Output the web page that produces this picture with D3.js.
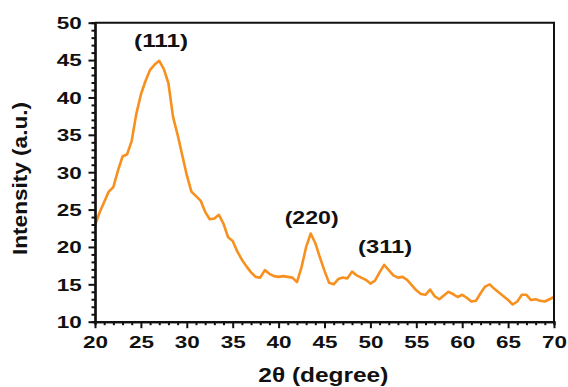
<!DOCTYPE html>
<html>
<head>
<meta charset="utf-8">
<script src="https://cdn.jsdelivr.net/npm/d3@7"></script>
<style>
  body { margin: 0; background: #fff; }
  svg { display: block; }
  text { font-family: "Liberation Sans", Arial, sans-serif; font-weight: bold; fill: #111; }
</style>
</head>
<body>
<div id="chart"></div>
<script>
// 2theta in degrees, 0.5 step
const twoTheta = d3.range(0, 101).map((i) => 20 + i * 0.5);
const intensity = [
  22.9, 24.6, 26.0, 27.4, 28.0, 30.2, 32.1, 32.4, 34.2, 37.8,
  40.4, 42.2, 43.7, 44.4, 44.9, 43.8, 41.9, 37.4, 35.0, 32.3,
  29.6, 27.4, 26.8, 26.2, 24.7, 23.7, 23.8, 24.3, 23.1, 21.3,
  20.8, 19.4, 18.3, 17.4, 16.6, 16.0, 15.9, 16.9, 16.4, 16.1,
  16.0, 16.1, 16.0, 15.9, 15.3, 17.3, 20.0, 21.8, 20.5, 18.6,
  16.8, 15.2, 15.0, 15.7, 15.9, 15.8, 16.7, 16.2, 15.9, 15.6,
  15.1, 15.5, 16.6, 17.6, 16.9, 16.2, 15.9, 16.0, 15.6, 14.9,
  14.2, 13.7, 13.6, 14.3, 13.4, 13.0, 13.5, 14.0, 13.7, 13.3,
  13.6, 13.2, 12.7, 12.8, 13.8, 14.7, 15.0, 14.4, 13.9, 13.4,
  12.9, 12.3, 12.7, 13.6, 13.6, 12.9, 13.0, 12.8, 12.7, 13.0,
  13.3
];

const peakLabels = ["(111)", "(220)", "(311)"];
const peakX = [27.2, 43.6, 51.6];
const peakY = [46.8, 23.1, 19.2];

const xTicks = [20, 25, 30, 35, 40, 45, 50, 55, 60, 65, 70];
const yTicks = [10, 15, 20, 25, 30, 35, 40, 45, 50];

const W = 568, H = 387;
const mLeft = 95, mRight = 554, mTop = 22.7, mBottom = 321.7;

const svg = d3.select("#chart").append("svg").attr("width", W).attr("height", H);

const x = d3.scaleLinear().domain([20, 70]).range([mLeft, mRight]);
const y = d3.scaleLinear().domain([10, 50]).range([mBottom, mTop]);

const data = twoTheta.map((t, i) => ({ t, v: intensity[i] }));

// curve
svg.append("path")
  .datum(data)
  .attr("fill", "none")
  .attr("stroke", "#f7901e")
  .attr("stroke-width", 2.6)
  .attr("stroke-linejoin", "round")
  .attr("d", d3.line().x((d) => x(d.t)).y((d) => y(d.v)));

// frame (top + right)
svg.append("path")
  .attr("d", `M${mLeft},${mTop}H${mRight}V${mBottom}`)
  .attr("fill", "none")
  .attr("stroke", "#111")
  .attr("stroke-width", 2);

const minorX = d3.range(20, 71, 1).filter((v) => v % 5 !== 0);
const minorY = d3.range(10, 51, 1).filter((v) => v % 5 !== 0);

function styleAxis(g) {
  g.select(".domain").attr("stroke", "#111").attr("stroke-width", 2.2);
  g.selectAll(".tick line").attr("stroke", "#111").attr("stroke-width", 2);
}

// x axis
svg.append("g")
  .attr("transform", `translate(0,${mBottom})`)
  .call(d3.axisBottom(x).tickValues(minorX).tickSize(3.5).tickFormat(""))
  .call(styleAxis);
const gx = svg.append("g")
  .attr("transform", `translate(0,${mBottom})`)
  .call(d3.axisBottom(x).tickValues(xTicks).tickSize(6.5).tickSizeOuter(0))
  .call(styleAxis);
gx.selectAll(".tick text")
  .attr("y", 26.6).attr("dy", null)
  .style("font-size", "16.5px")
  .attr("textLength", 25)
  .attr("lengthAdjust", "spacingAndGlyphs")
  .attr("x", -12.5)
  .attr("text-anchor", "start");

// y axis
svg.append("g")
  .attr("transform", `translate(${mLeft},0)`)
  .call(d3.axisLeft(y).tickValues(minorY).tickSize(3.5).tickFormat(""))
  .call(styleAxis);
const gy = svg.append("g")
  .attr("transform", `translate(${mLeft},0)`)
  .call(d3.axisLeft(y).tickValues(yTicks).tickSize(6.5).tickSizeOuter(0))
  .call(styleAxis);
gy.selectAll(".tick text")
  .attr("dy", null)
  .attr("y", 5.8)
  .attr("x", -38.3)
  .attr("text-anchor", "start")
  .style("font-size", "16.5px")
  .attr("textLength", 25)
  .attr("lengthAdjust", "spacingAndGlyphs");

// peak labels
svg.selectAll(".peak")
  .data(peakLabels)
  .enter()
  .append("text")
  .attr("class", "peak")
  .attr("x", (d, i) => x(peakX[i]) - 27)
  .attr("y", (d, i) => y(peakY[i]))
  .style("font-size", "18px")
  .attr("textLength", 54)
  .attr("lengthAdjust", "spacingAndGlyphs")
  .text((d) => d);

// axis titles
svg.append("text")
  .attr("x", 258.3)
  .attr("y", 381.5)
  .style("font-size", "21px")
  .attr("textLength", 130)
  .attr("lengthAdjust", "spacingAndGlyphs")
  .text("2θ (degree)");

svg.append("text")
  .attr("transform", "translate(27.4,255) rotate(-90)")
  .style("font-size", "20.5px")
  .attr("textLength", 153)
  .attr("lengthAdjust", "spacingAndGlyphs")
  .text("Intensity (a.u.)");
</script>
</body>
</html>
